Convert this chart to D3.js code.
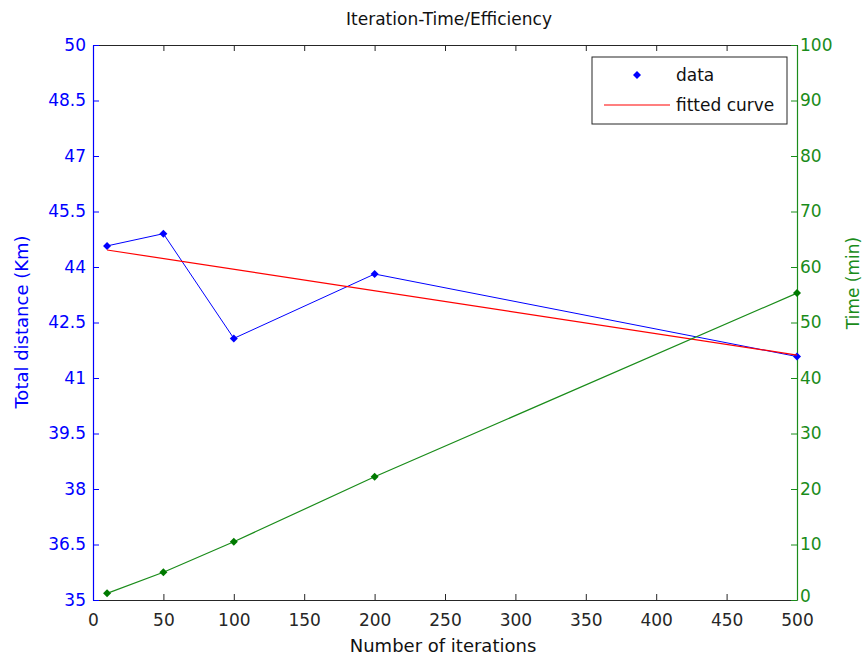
<!DOCTYPE html>
<html>
<head>
<meta charset="utf-8">
<script src="https://cdn.jsdelivr.net/npm/d3@7"></script>
<style>
  html, body { margin: 0; padding: 0; background: #fff; }
  svg { display: block; font-family: "DejaVu Sans", sans-serif; }
</style>
</head>
<body>
<svg id="chart" width="865" height="656"></svg>
<script>
// Iteration counts used in the experiment
const iterations = [10, 50, 100, 200, 500];
// Total route distance (Km) per run
const distance = [44.57, 44.9, 42.07, 43.81, 41.58];
// Linear fit of distance against iterations (end points)
const fitX = [10, 500];
const fitY = [44.46, 41.62];
// Computation time (min) per run
const timeMin = [1.2, 5.0, 10.5, 22.2, 55.3];

const xTicks = [0, 50, 100, 150, 200, 250, 300, 350, 400, 450, 500];
const leftTicks = [35, 36.5, 38, 39.5, 41, 42.5, 44, 45.5, 47, 48.5, 50];
const rightTicks = [0, 10, 20, 30, 40, 50, 60, 70, 80, 90, 100];

const BLUE = "#0000ff", RED = "#ff0000", GREEN = "#1a8c1a", DARK = "#262626";
const FONT = "DejaVu Sans, sans-serif";
const L = 93, R = 797, T = 45, B = 600;

const svg = d3.select("#chart");
const x = d3.scaleLinear().domain([0, 500]).range([L, R]);
const yL = d3.scaleLinear().domain([35, 50]).range([B, T]);
const yR = d3.scaleLinear().domain([0, 100]).range([B, T]);

const tickFont = 17;

// bottom axis
const gx = svg.append("g").attr("transform", `translate(0,${B})`)
  .call(d3.axisBottom(x).tickValues(xTicks).tickFormat(d3.format("d")).tickSizeInner(-6).tickSizeOuter(0).tickPadding(14));
gx.select(".domain").attr("stroke", DARK).attr("stroke-width", 1.2);
gx.selectAll(".tick line").attr("stroke", DARK);
gx.selectAll("text").attr("fill", DARK).attr("font-size", tickFont).attr("font-family", FONT);

// top axis (ticks only)
const gt = svg.append("g").attr("transform", `translate(0,${T})`)
  .call(d3.axisTop(x).tickValues(xTicks).tickFormat("").tickSizeInner(-6).tickSizeOuter(0));
gt.select(".domain").attr("stroke", DARK).attr("stroke-width", 1.2);
gt.selectAll(".tick line").attr("stroke", DARK);

// left axis
const gl = svg.append("g").attr("transform", `translate(${L},0)`)
  .call(d3.axisLeft(yL).tickValues(leftTicks).tickFormat(d => String(d)).tickSizeInner(-6).tickSizeOuter(0).tickPadding(7));
gl.select(".domain").attr("stroke", BLUE).attr("stroke-width", 1.2);
gl.selectAll(".tick line").attr("stroke", BLUE);
gl.selectAll("text").attr("fill", BLUE).attr("font-size", tickFont).attr("font-family", FONT);

// right axis
const gr = svg.append("g").attr("transform", `translate(${R},0)`)
  .call(d3.axisRight(yR).tickValues(rightTicks).tickFormat(d3.format("d")).tickSizeInner(-6).tickSizeOuter(0).tickPadding(3));
gr.select(".domain").attr("stroke", GREEN).attr("stroke-width", 1.2);
gr.selectAll(".tick line").attr("stroke", GREEN);
gr.selectAll("text").attr("fill", GREEN).attr("font-size", tickFont).attr("font-family", FONT);
// lift the bottom right label slightly so it clears the x tick "500"
gr.selectAll(".tick").filter(d => d === 0).select("text").attr("dy", "0.1em");

// square-proportioned diamond marker
const squareDiamond = {
  draw(ctx, size) {
    const r = Math.sqrt(size / 2);
    ctx.moveTo(0, -r); ctx.lineTo(r, 0); ctx.lineTo(0, r); ctx.lineTo(-r, 0); ctx.closePath();
  }
};
const diamond = d3.symbol().type(squareDiamond).size(32);

// distance series
const distPts = iterations.map((v, i) => [v, distance[i]]);
svg.append("path").datum(distPts)
  .attr("fill", "none").attr("stroke", BLUE).attr("stroke-width", 1)
  .attr("d", d3.line().x(d => x(d[0])).y(d => yL(d[1])));
svg.append("g").selectAll("path").data(distPts).join("path")
  .attr("d", diamond).attr("fill", BLUE)
  .attr("transform", d => `translate(${x(d[0])},${yL(d[1])})`);

// fitted curve
const fitPts = fitX.map((v, i) => [v, fitY[i]]);
svg.append("path").datum(fitPts)
  .attr("fill", "none").attr("stroke", RED).attr("stroke-width", 1.2)
  .attr("d", d3.line().x(d => x(d[0])).y(d => yL(d[1])));

// time series
const timePts = iterations.map((v, i) => [v, timeMin[i]]);
svg.append("path").datum(timePts)
  .attr("fill", "none").attr("stroke", GREEN).attr("stroke-width", 1.2)
  .attr("d", d3.line().x(d => x(d[0])).y(d => yR(d[1])));
svg.append("g").selectAll("path").data(timePts).join("path")
  .attr("d", diamond).attr("fill", "#007a00")
  .attr("transform", d => `translate(${x(d[0])},${yR(d[1])})`);

// title and axis labels
svg.append("text").attr("x", 449).attr("y", 25).attr("text-anchor", "middle")
  .attr("font-size", 17).attr("fill", "#111").text("Iteration-Time/Efficiency");
svg.append("text").attr("x", 443).attr("y", 652).attr("text-anchor", "middle")
  .attr("font-size", 18).attr("fill", "#111").text("Number of iterations");
svg.append("text").attr("transform", "translate(28,322) rotate(-90)").attr("text-anchor", "middle")
  .attr("font-size", 18).attr("fill", BLUE).text("Total distance (Km)");
svg.append("text").attr("transform", "translate(859,283) rotate(-90)").attr("text-anchor", "middle")
  .attr("font-size", 17).attr("fill", GREEN).text("Time (min)");

// legend
const lg = svg.append("g");
lg.append("rect").attr("x", 592).attr("y", 57).attr("width", 195).attr("height", 67)
  .attr("fill", "#fff").attr("stroke", DARK).attr("stroke-width", 1);
lg.append("path").attr("d", diamond).attr("fill", BLUE).attr("transform", "translate(637,75)");
lg.append("text").attr("x", 676).attr("y", 81).attr("font-size", 17).attr("fill", "#111").text("data");
lg.append("line").attr("x1", 604).attr("x2", 670).attr("y1", 105).attr("y2", 105)
  .attr("stroke", RED).attr("stroke-width", 1.2);
lg.append("text").attr("x", 676).attr("y", 111).attr("font-size", 17).attr("fill", "#111").text("fitted curve");
</script>
</body>
</html>
